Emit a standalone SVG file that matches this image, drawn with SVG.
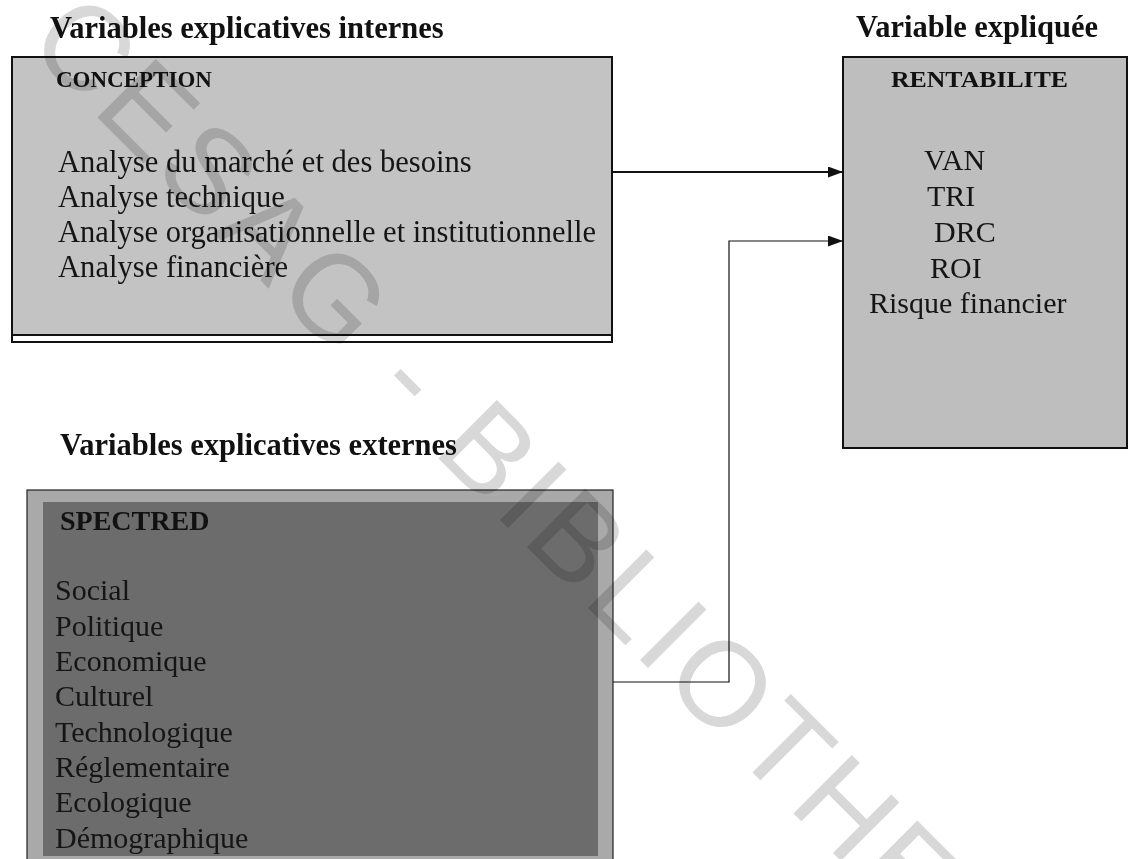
<svg xmlns="http://www.w3.org/2000/svg" width="1131" height="859" viewBox="0 0 1131 859">
  <defs>
    <marker id="ah" viewBox="0 0 15 11" refX="15" refY="5.5" markerUnits="userSpaceOnUse" markerWidth="15" markerHeight="11" orient="auto">
      <path d="M0,0 L15,5.5 L0,11 Z" fill="#111"/>
    </marker>
    <style>
      .title { font-family: "Liberation Serif", "Times New Roman", serif; font-weight: bold; font-size: 30.5px; fill: #111; }
      .head { font-family: "Liberation Serif", "Times New Roman", serif; font-weight: bold; fill: #111; }
      .item { font-family: "Liberation Serif", "Times New Roman", serif; font-size: 30px; fill: #151515; }
      .big { font-size: 30.6px; }
      .conn { fill: none; stroke: #111; }
      .wm { font-family: "Liberation Sans", Arial, sans-serif; font-size: 120px; fill: #d8d8d8; mix-blend-mode: multiply; letter-spacing: 6px; }
    </style>
  </defs>
  <rect width="1131" height="859" fill="#ffffff"/>

  <text class="title" x="50" y="38">Variables explicatives internes</text>
  <text class="title" x="856" y="37">Variable expliquée</text>
  <text class="title" x="60" y="455">Variables explicatives externes</text>

  <g id="conception">
    <rect x="12" y="57" width="600" height="285" fill="#ffffff" stroke="#111" stroke-width="2"/>
    <rect x="13" y="58" width="598" height="277" fill="#c3c3c3"/>
    <line x1="12" y1="335" x2="612" y2="335" stroke="#111" stroke-width="2"/>
    <text class="head" x="56" y="87" font-size="23">CONCEPTION</text>
    <text class="item big" x="58" y="172">Analyse du marché et des besoins</text>
    <text class="item big" x="58" y="207">Analyse technique</text>
    <text class="item big" x="58" y="242" textLength="538" lengthAdjust="spacingAndGlyphs">Analyse organisationnelle et institutionnelle</text>
    <text class="item big" x="58" y="277">Analyse financière</text>
  </g>

  <g id="rentabilite">
    <rect x="843" y="57" width="284" height="391" fill="#bebebe" stroke="#111" stroke-width="2"/>
    <text class="head" x="891" y="87" font-size="24" textLength="177" lengthAdjust="spacingAndGlyphs">RENTABILITE</text>
    <text class="item" x="924" y="170">VAN</text>
    <text class="item" x="927" y="206">TRI</text>
    <text class="item" x="934" y="242">DRC</text>
    <text class="item" x="930" y="278">ROI</text>
    <text class="item" x="869" y="313">Risque financier</text>
  </g>

  <g id="spectred">
    <rect x="27" y="490" width="586" height="380" fill="#a9a9a9" stroke="#222" stroke-width="1.2"/>
    <rect x="43" y="502" width="555" height="354" fill="#6c6c6c"/>
    <text class="head" x="60" y="530" font-size="28">SPECTRED</text>
    <text class="item" x="55" y="600">Social</text>
    <text class="item" x="55" y="636">Politique</text>
    <text class="item" x="55" y="671">Economique</text>
    <text class="item" x="55" y="706">Culturel</text>
    <text class="item" x="55" y="742">Technologique</text>
    <text class="item" x="55" y="777">Réglementaire</text>
    <text class="item" x="55" y="812">Ecologique</text>
    <text class="item" x="55" y="848">Démographique</text>
  </g>

  <g id="connectors">
    <path class="conn" d="M612,172 H843" stroke-width="2.2" marker-end="url(#ah)"/>
    <path class="conn" d="M613,682 H729 V241 H843" stroke-width="1.2" stroke="#333" marker-end="url(#ah)"/>
  </g>

  <text class="wm" transform="translate(25,45) rotate(45)">CESAG - BIBLIOTHEQUE</text>
</svg>
